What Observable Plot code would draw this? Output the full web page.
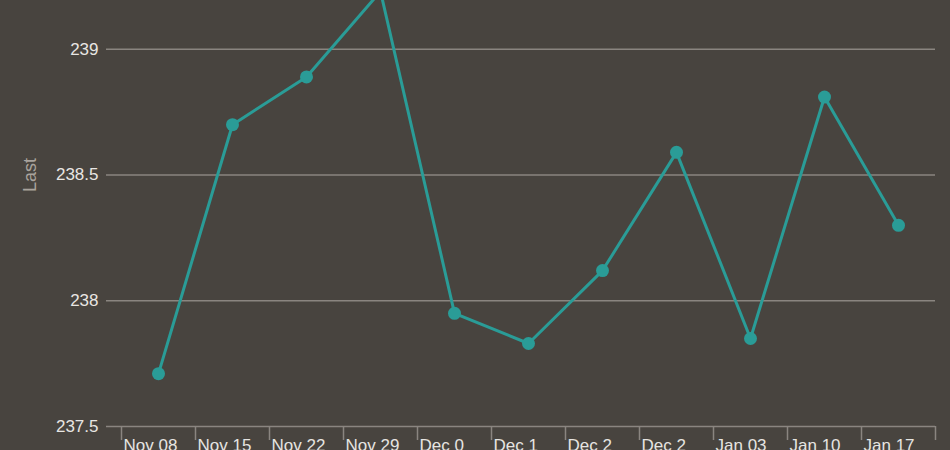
<!DOCTYPE html>
<html><head><meta charset="utf-8">
<script src="https://cdn.jsdelivr.net/npm/d3@7"></script>
<script src="https://cdn.jsdelivr.net/npm/@observablehq/plot@0.6"></script>
<style>
html,body{margin:0;padding:0;background:#48443f;overflow:hidden;}
</style></head><body><div id="chart"></div>
<script>
const weeks = ["Nov 08","Nov 15","Nov 22","Nov 29","Dec 06","Dec 13","Dec 20","Dec 27","Jan 03","Jan 10","Jan 17"];
const weekLabels = ["Nov 08","Nov 15","Nov 22","Nov 29","Dec 0","Dec 1","Dec 2","Dec 2","Jan 03","Jan 10","Jan 17"];
const last = [237.71, 238.70, 238.89, 239.23, 237.95, 237.83, 238.12, 238.59, 237.85, 238.81, 238.30];
const yTicks = [237.5, 238, 238.5, 239];
const yTitle = "Last";

const data = weeks.map((w, i) => ({week: w, last: last[i]}));
const labelOf = new Map(weeks.map((w, i) => [w, weekLabels[i]]));
const teal = "#2a9c97";
const gridColor = "#8a8580";

const chart = Plot.plot({
  width: 950, height: 450,
  marginLeft: 106, marginRight: 15, marginTop: 0, marginBottom: 24,
  style: {background: "#48443f", fontFamily: "'Liberation Sans', Arial, sans-serif", fontSize: "17px", color: "#e6e6e6", overflow: "hidden"},
  x: {type: "band", domain: weeks, range: [121, 935], padding: 0, axis: null},
  y: {domain: [237.5, 239.5], range: [426, -77], axis: null},
  marks: [
    Plot.gridY(yTicks, {stroke: gridColor, strokeOpacity: 1, strokeWidth: 1.5}),
    Plot.axisY(yTicks, {label: null, tickSize: 0, tickPadding: 8, fill: "#e8e6e3", fontSize: 17, tickFormat: d => String(d)}),
    Plot.text([238.5], {y: d => d, frameAnchor: "left", textAnchor: "middle", dx: -76, rotate: -90, text: [yTitle], fill: "#a9a39d", fontSize: 18}),
    Plot.axisX(weeks, {label: null, tickSize: 14, dx: -37, fill: "none", stroke: gridColor, strokeOpacity: 1, strokeWidth: 1.5}),
    Plot.axisX([weeks[weeks.length - 1]], {label: null, tickSize: 14, dx: 37, fill: "none", stroke: gridColor, strokeOpacity: 1, strokeWidth: 1.5}),
    Plot.axisX(weeks, {label: null, tickSize: 0, tickPadding: 12, dx: -35, textAnchor: "start", tickFormat: d => labelOf.get(d), fill: "#e6e4e1", fontSize: 17}),
    Plot.lineY(data, {x: "week", y: "last", stroke: teal, strokeWidth: 3}),
    Plot.dot(data, {x: "week", y: "last", r: 6.5, fill: teal, stroke: "none"})
  ]
});
document.getElementById("chart").appendChild(chart);
</script></body></html>
